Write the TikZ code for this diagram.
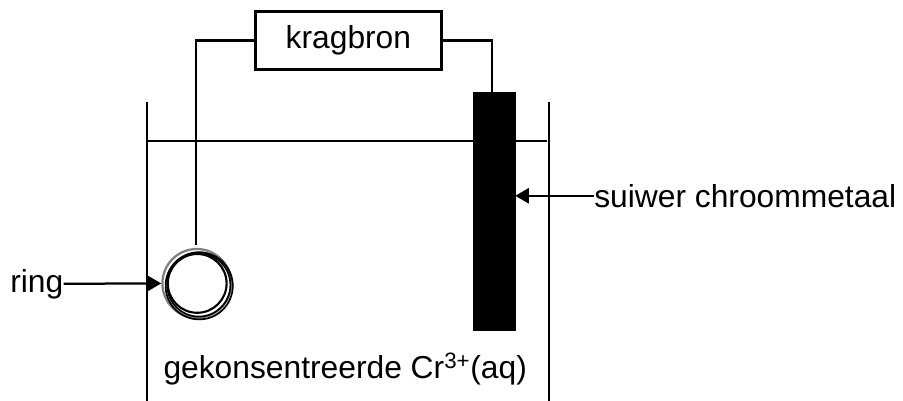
\documentclass[tikz,border=0pt]{standalone}
\usepackage{fontspec}
\setmainfont{Liberation Sans}
\usetikzlibrary{arrows.meta}
\tikzset{
  wire/.style={line width=1.6pt},
  pointer/.style={line width=1.6pt, -{Triangle[length=3.4mm,width=3.8mm]}},
  tekst/.style={font=\fontsize{22.6}{26}\selectfont, inner sep=0pt},
  coil/.style={circle, draw, line width=1.2pt, inner sep=0pt},
}
\begin{document}
\begin{tikzpicture}
    \useasboundingbox (0,0) rectangle (22.575,10.025);
    % beaker and liquid level
    \draw [wire] (3.675,0) -- (3.675,7.475);
    \draw [wire] (13.725,0) -- (13.725,7.475);
    \draw [wire] (3.675,6.5) -- (13.675,6.5);
    % ring
    \node [coil, draw=black!50, line width=1.6pt, minimum size=1.72cm] (ring3) at (4.92,2.94) {};
    \node [coil, minimum size=1.68cm] (ring2) at (4.98,2.88) {};
    \node [coil, minimum size=1.58cm] (ring1) at (4.97,2.9) {};
    \node [coil, line width=1.5pt, minimum size=1.47cm] (ring) at (4.93,2.94) {};
    % electrode
    \node [draw, fill=black, minimum width=1.05cm, minimum height=5.95cm, inner sep=0pt, anchor=north] (chroom) at (12.35,7.725) {};
    % power supply
    \node [draw, line width=1.6pt, minimum width=4.65cm, minimum height=1.45cm, tekst] (kragbron) at (8.71,9.01) {kragbron};
    \draw [wire] (kragbron.west) -| (4.9,3.9);
    \draw [wire] (kragbron.east) -| (12.3,7.725);
    % labels
    \node [tekst, anchor=west] (ringtext) at (0.25,2.93) {ring};
    \node [tekst, anchor=west] (metaal) at (14.85,5.13) {suiwer chroommetaal};
    \node [tekst] (oplossing) at (8.63,0.8) {gekonsentreerde Cr\textsuperscript{3+}(aq)};
    \draw [pointer] (ringtext.east) -- (ring3.west);
    \draw [pointer] (metaal.west) -- (chroom.east |- metaal.west);
  \end{tikzpicture}
\end{document}
